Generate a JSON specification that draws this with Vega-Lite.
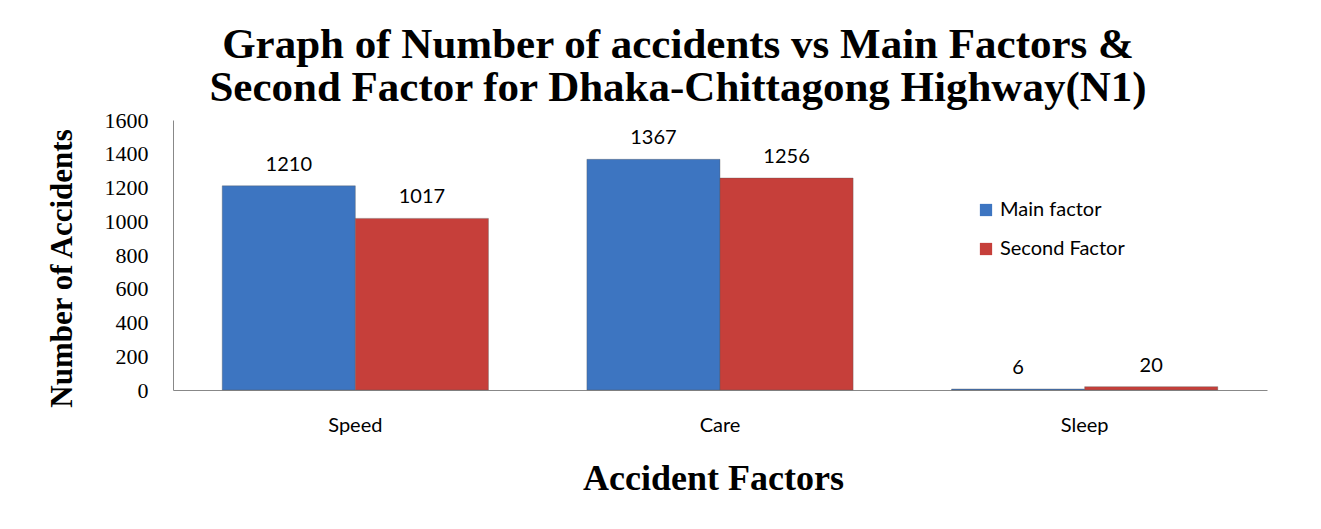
{
  "$schema": "https://vega.github.io/schema/vega-lite/v6.json",
  "width": 1094,
  "height": 270,
  "autosize": {"type": "none"},
  "padding": {"left": 173, "top": 120, "right": 54, "bottom": 139},
  "background": "white",
  "title": {
    "text": ["Graph of Number of accidents vs Main Factors &", "Second Factor for Dhaka-Chittagong Highway(N1)"],
    "font": "Liberation Serif",
    "fontSize": 43,
    "fontWeight": "bold",
    "color": "#000000",
    "anchor": "middle",
    "dx": -42,
    "lineHeight": 43,
    "offset": -1
  },
  "data": {
    "values": [
      {"Factor": "Speed", "Series": "Main factor", "Accidents": 1210},
      {"Factor": "Speed", "Series": "Second Factor", "Accidents": 1017},
      {"Factor": "Care", "Series": "Main factor", "Accidents": 1367},
      {"Factor": "Care", "Series": "Second Factor", "Accidents": 1256},
      {"Factor": "Sleep", "Series": "Main factor", "Accidents": 6},
      {"Factor": "Sleep", "Series": "Second Factor", "Accidents": 20}
    ]
  },
  "encoding": {
    "x": {
      "field": "Factor",
      "type": "nominal",
      "sort": ["Speed", "Care", "Sleep"],
      "scale": {"paddingInner": 0.27, "paddingOuter": 0.135},
      "axis": {
        "title": "Accident Factors",
        "titleFont": "Liberation Serif",
        "titleFontSize": 36,
        "titleFontWeight": "bold",
        "titleColor": "#000000",
        "titleBaseline": "middle",
        "titleY": 88,
        "titleX": 540,
        "labelFont": "Lato",
        "labelFontSize": 20,
        "labelColor": "#000000",
        "labelAngle": 0,
        "labelPadding": 35,
        "labelBaseline": "middle",
        "ticks": false,
        "domainColor": "#888888",
        "grid": false
      }
    },
    "xOffset": {"field": "Series", "type": "nominal"},
    "y": {
      "field": "Accidents",
      "type": "quantitative",
      "scale": {"domain": [0, 1600], "nice": false},
      "axis": {
        "title": "Number of Accidents",
        "titleFont": "Liberation Serif",
        "titleFontSize": 31,
        "titleFontWeight": "bold",
        "titleColor": "#000000",
        "titleX": -111,
        "titleY": 148,
        "titleBaseline": "middle",
        "titleAlign": "center",
        "titleAngle": -90,
        "values": [0, 200, 400, 600, 800, 1000, 1200, 1400, 1600],
        "format": "d",
        "labelFont": "Liberation Serif",
        "labelFontSize": 22,
        "labelColor": "#000000",
        "labelPadding": 25,
        "ticks": false,
        "grid": false,
        "domainColor": "#888888"
      }
    }
  },
  "layer": [
    {
      "mark": {"type": "bar", "strokeWidth": 1, "stroke": "#555555", "strokeOpacity": 0.35},
      "encoding": {
        "color": {
          "field": "Series",
          "type": "nominal",
          "scale": {"domain": ["Main factor", "Second Factor"], "range": ["#3d75c1", "#c63f3a"]},
          "legend": {
            "title": null,
            "orient": "none",
            "legendX": 803,
            "legendY": 80,
            "symbolType": "square",
            "symbolSize": 150,
            "symbolStrokeWidth": 0,
            "rowPadding": 19,
            "labelFont": "Lato",
            "labelFontSize": 20,
            "labelColor": "#000000",
            "labelOffset": 4
          }
        }
      }
    },
    {
      "mark": {"type": "text", "dy": -21, "font": "Lato", "fontSize": 20, "color": "#000000", "baseline": "middle"},
      "encoding": {"text": {"field": "Accidents", "type": "quantitative"}}
    }
  ],
  "config": {"view": {"stroke": null}}
}
